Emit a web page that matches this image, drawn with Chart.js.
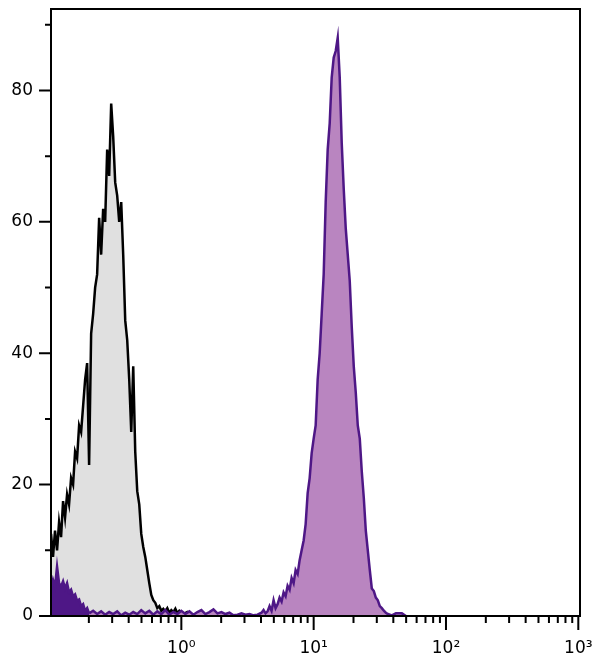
<!DOCTYPE html>
<html lang="en">
<head>
<meta charset="UTF-8">
<title>Histogram overlay</title>
<script src="https://cdn.jsdelivr.net/npm/chart.js"></script>
<style>
  html, body { margin: 0; padding: 0; background: #fff; }
  #wrap { width: 600px; height: 671px; }
</style>
</head>
<body>
<div id="wrap"><canvas id="c" width="600" height="671"></canvas></div>
<script>
  // control (grey) histogram
  const grayX = [0.1036, 0.1072, 0.1110, 0.1150, 0.1191, 0.1233, 0.1277, 0.1322, 0.1369, 0.1417,
    0.1468, 0.1520, 0.1574, 0.1630, 0.1688, 0.1748, 0.1810, 0.1874, 0.1941, 0.2009,
    0.2081, 0.2155, 0.2231, 0.2310, 0.2392, 0.2477, 0.2565, 0.2656, 0.2751, 0.2848,
    0.2950, 0.3054, 0.3163, 0.3275, 0.3391, 0.3512, 0.3636, 0.3766, 0.3899, 0.4038,
    0.4181, 0.4329, 0.4483, 0.4642, 0.4807, 0.4978, 0.5155, 0.5338, 0.5527, 0.5723,
    0.5927, 0.6137, 0.6355, 0.6581, 0.6814, 0.7056, 0.7307, 0.7566, 0.7835, 0.8113,
    0.8401, 0.8699, 0.9008, 0.9328, 0.9659, 1.0355, 1.110, 1.191, 1.322, 1.468, 1.575];
  const grayY = [12.5, 9, 13, 10, 14.3, 12, 17.5, 15, 18.5, 17,
    21, 20, 25, 24, 29, 28, 32, 36, 38.5, 23,
    43, 46, 50, 52, 60.6, 55, 62, 60, 71, 67,
    78, 73, 66, 64, 60, 63, 55, 45, 42, 36,
    28, 38, 25, 19, 17, 12.5, 10.5, 9, 7, 5,
    3.2, 2.4, 2, 1.2, 1.5, 0.8, 1.1, 0.7, 1.2, 0.5,
    0.9, 0.6, 1.1, 0.4, 0.8, 0.3, 0.6, 0.2, 0.3, 0.1, 0];

  // stained (purple) histogram
  const purpleX = [0.1036, 0.1072, 0.1110, 0.1150, 0.1191, 0.1233, 0.1277, 0.1322, 0.1369, 0.1417,
    0.1468, 0.1520, 0.1574, 0.1630, 0.1688, 0.1748, 0.1810, 0.1874, 0.1941, 0.2009,
    0.2155, 0.2310, 0.2477, 0.2656, 0.2848, 0.3054, 0.3275, 0.3512, 0.3766, 0.4038,
    0.4329, 0.4642, 0.4978, 0.5338, 0.5723, 0.6137, 0.6581, 0.7056, 0.7566, 0.8113,
    0.8699, 0.9328, 1.0, 1.0723, 1.1498, 1.2328, 1.3219, 1.4174, 1.5199, 1.6298,
    1.7476, 1.8739, 2.0094, 2.1546, 2.3103, 2.4773, 2.6564, 2.8484, 3.0542, 3.2750,
    3.5117, 3.7655, 4.0376, 4.181, 4.329, 4.483, 4.642, 4.807, 4.978, 5.155,
    5.338, 5.527, 5.723, 5.927, 6.137, 6.355, 6.581, 6.814, 7.056, 7.307,
    7.566, 7.835, 8.113, 8.401, 8.699, 9.008, 9.328, 9.659, 10.0, 10.355,
    10.723, 11.103, 11.498, 11.906, 12.328, 12.766, 13.219, 13.689, 14.174, 14.678,
    15.199, 15.739, 16.298, 16.877, 17.476, 18.097, 18.739, 19.405, 20.094, 20.807,
    21.546, 22.311, 23.103, 23.924, 24.773, 25.653, 26.564, 27.507, 28.484, 29.495,
    30.542, 31.627, 32.750, 33.913, 35.117, 36.364, 38.992, 41.81, 46.42, 49.78];
  const purpleY = [4, 5.5, 4.5, 7.5, 5, 4.5, 5.3, 4.2, 5, 3.6,
    4, 3, 3.3, 2.3, 2.5, 1.5, 1.8, 0.8, 1.2, 0.4,
    0.8, 0.3, 0.7, 0.2, 0.6, 0.3, 0.7, 0.1, 0.5, 0.2,
    0.6, 0.3, 0.9, 0.4, 0.8, 0.2, 0.7, 0.3, 0.9, 0.2,
    0.6, 0.3, 0.8, 0.3, 0.7, 0.2, 0.6, 0.9, 0.3, 0.6,
    1.0, 0.4, 0.6, 0.3, 0.5, 0.1, 0.2, 0.4, 0.2, 0.3,
    0.1, 0.2, 0.5, 0.9, 0.4, 0.7, 1.5, 0.8, 2.4, 1.2,
    1.8, 2.8, 2.2, 3.6, 3, 4.6, 4, 5.8, 5, 7,
    6.4, 8.5, 10, 11.5, 14, 18.7, 21, 24.8, 27, 29,
    36, 40, 46, 52, 63, 71, 75, 82, 85, 86,
    88, 82, 72, 65, 59, 55, 51, 44, 38, 34,
    29, 27, 22, 18, 13, 10, 7, 4.2, 3.8, 2.8,
    2.4, 1.5, 1.2, 0.8, 0.5, 0.3, 0.1, 0.4, 0.4, 0];

  const xMajor = [1, 10, 100, 1000];
  const xLabels = ['10⁰', '10¹', '10²', '10³'];
  const yMajor = [0, 20, 40, 60, 80];
  const yMinor = [10, 30, 50, 70, 90];

  const xMinor = [];
  [0.1, 1, 10, 100].forEach(d => { for (let m = 2; m <= 9; m++) xMinor.push(d * m); });

  const frameTicks = {
    id: 'frameTicks',
    afterDraw(chart) {
      const { ctx, chartArea: a, scales: { x, y } } = chart;
      ctx.save();
      ctx.strokeStyle = '#000';
      ctx.lineWidth = 2;
      ctx.strokeRect(a.left, a.top, a.right - a.left, a.bottom - a.top);
      ctx.beginPath();
      xMajor.forEach(v => { const p = x.getPixelForValue(v); ctx.moveTo(p, a.bottom); ctx.lineTo(p, a.bottom + 14); });
      xMinor.forEach(v => { const p = x.getPixelForValue(v); ctx.moveTo(p, a.bottom); ctx.lineTo(p, a.bottom + 7); });
      yMajor.forEach(v => { const p = y.getPixelForValue(v); ctx.moveTo(a.left, p); ctx.lineTo(a.left - 12, p); });
      yMinor.forEach(v => { const p = y.getPixelForValue(v); ctx.moveTo(a.left, p); ctx.lineTo(a.left - 6, p); });
      ctx.stroke();
      ctx.restore();
    }
  };

  const pts = (xs, ys) => xs.map((v, i) => ({ x: v, y: ys[i] }));

  // keep the plot box fixed: no extra room for overhanging tick labels
  const noPad = s => { s.paddingTop = 0; s.paddingBottom = 0; s.paddingLeft = 0; s.paddingRight = 0; };

  new Chart(document.getElementById('c'), {
    type: 'line',
    data: {
      datasets: [{
        data: pts(purpleX, purpleY),
        borderColor: '#4e1786',
        backgroundColor: '#b985c0',
        segment: {
          backgroundColor: c => (c.p0.parsed.x < 0.2 ? '#4e1786' : undefined)
        },
        borderWidth: 2.5,
        fill: 'origin',
        pointRadius: 0,
        tension: 0
      }, {
        data: pts(grayX, grayY),
        borderColor: '#000',
        backgroundColor: '#e0e0e0',
        borderWidth: 2.5,
        fill: 'origin',
        pointRadius: 0,
        tension: 0
      }]
    },
    options: {
      responsive: false,
      animation: false,
      layout: { padding: { top: 9, right: 20, left: 0, bottom: 0 } },
      plugins: { legend: { display: false }, tooltip: { enabled: false } },
      scales: {
        x: {
          type: 'logarithmic',
          min: 0.1035,
          max: 1030,
          border: { display: false },
          grid: { display: false, drawTicks: false },
          afterBuildTicks: s => { s.ticks = xMajor.map(v => ({ value: v })); },
          afterFit: s => { s.height = 55; noPad(s); },
          ticks: {
            autoSkip: false,
            maxRotation: 0,
            padding: 22,
            color: '#000',
            font: { family: 'DejaVu Sans', size: 17 },
            callback: v => xLabels[xMajor.indexOf(v)] || ''
          }
        },
        y: {
          min: 0,
          max: 92.4,
          border: { display: false },
          grid: { display: false, drawTicks: false },
          afterBuildTicks: s => { s.ticks = yMajor.map(v => ({ value: v })); },
          afterFit: s => { s.width = 51; noPad(s); },
          ticks: {
            padding: 18,
            color: '#000',
            font: { family: 'DejaVu Sans', size: 17 }
          }
        }
      }
    },
    plugins: [frameTicks]
  });
</script>
</body>
</html>
